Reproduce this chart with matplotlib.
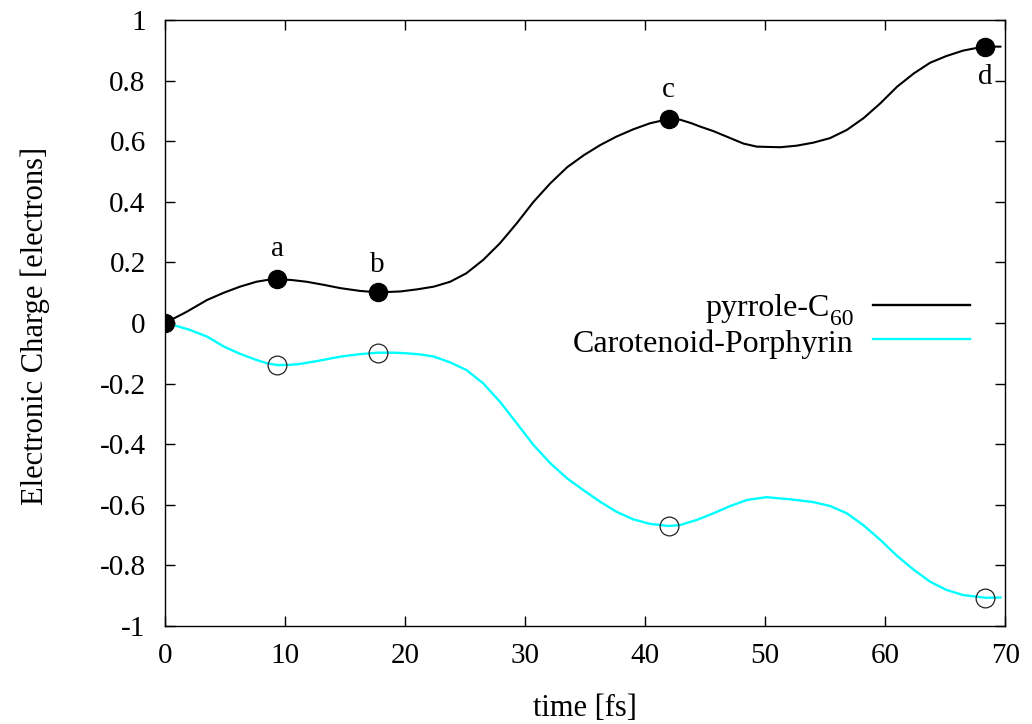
import matplotlib
matplotlib.use("Agg")
import matplotlib.pyplot as plt
from matplotlib.transforms import offset_copy

plt.rcParams['font.family'] = ['Liberation Serif', 'DejaVu Serif']

# Charge on the pyrrole-C60 fragment (electrons) vs time (fs)
t_pyr = [0, 1.8, 3.5, 4.9, 6.25, 7.6, 8.5, 9.36, 10.5, 11.8, 13.2, 14.6,
         16.2, 17.7, 19.6, 21.0, 22.4, 23.75, 25.1, 26.5, 27.9, 29.3, 30.7,
         32.1, 33.5, 34.9, 36.25, 37.6, 39.0, 40.4, 41.95, 42.9, 43.8, 44.6,
         45.7, 47.1, 48.2, 49.3, 51.25, 52.6, 54.0, 55.4, 56.8, 58.2, 59.6,
         61.0, 62.4, 63.75, 65.1, 66.5, 67.4, 68.3, 69.6]
q_pyr = [0, 0.037, 0.076, 0.1, 0.12, 0.136, 0.142, 0.144, 0.142, 0.136,
         0.126, 0.115, 0.106, 0.101, 0.104, 0.111, 0.12, 0.136, 0.164, 0.208,
         0.263, 0.329, 0.40, 0.461, 0.514, 0.554, 0.587, 0.615, 0.639, 0.659,
         0.673, 0.671, 0.66, 0.648, 0.633, 0.61, 0.592, 0.582, 0.58, 0.585,
         0.595, 0.61, 0.637, 0.676, 0.725, 0.78, 0.824, 0.859, 0.881, 0.899,
         0.906, 0.912, 0.912]

# Charge on the carotenoid-porphyrin fragment
t_car = [0, 0.7, 2.0, 3.5, 4.9, 6.25, 7.6, 8.5, 9.36, 10.5, 11.25, 12.9,
         14.6, 16.2, 17.7, 19.0, 20.1, 21.3, 22.4, 23.75, 25.1, 26.5, 27.9,
         29.3, 30.7, 32.1, 33.5, 34.9, 36.25, 37.6, 39.0, 40.4, 41.95, 42.9,
         44.3, 45.7, 47.1, 48.5, 50.1, 52.1, 54.0, 55.4, 56.8, 58.2, 59.6,
         61.0, 62.4, 63.75, 65.1, 66.5, 68.4, 69.6]
q_car = [0, -0.007, -0.022, -0.045, -0.078, -0.102, -0.122, -0.133, -0.139,
         -0.138, -0.135, -0.124, -0.111, -0.103, -0.098, -0.098, -0.1,
         -0.104, -0.111, -0.130, -0.155, -0.199, -0.26, -0.331, -0.403,
         -0.463, -0.513, -0.553, -0.59, -0.623, -0.648, -0.663, -0.67,
         -0.667, -0.65, -0.628, -0.604, -0.584, -0.575, -0.582, -0.591,
         -0.604, -0.628, -0.668, -0.716, -0.769, -0.815, -0.854, -0.881,
         -0.898, -0.907, -0.906]

assert len(t_pyr) == len(q_pyr) and len(t_car) == len(q_car)

# Snapshot instants a-d
snap_labels = ['a', 'b', 'c', 'd']
snap_t = [9.36, 17.7, 41.95, 68.3]
snap_pyr = [0.144, 0.101, 0.673, 0.912]
snap_car = [-0.139, -0.098, -0.67, -0.907]

xticks = [0, 10, 20, 30, 40, 50, 60, 70]
yticks = [-1, -0.8, -0.6, -0.4, -0.2, 0, 0.2, 0.4, 0.6, 0.8, 1]
ytick_labels = ['-1', '-0.8', '-0.6', '-0.4', '-0.2', '0', '0.2', '0.4',
                '0.6', '0.8', '1']

fig = plt.figure(figsize=(10.32, 7.24), dpi=100)
ax = fig.add_axes([0.16, 0.1354, 0.814, 0.837])

ax.plot(t_pyr, q_pyr, color='black', lw=1.5, zorder=3,
        solid_joinstyle='round')
ax.plot(t_car, q_car, color='#00ffff', lw=1.7, zorder=2,
        solid_joinstyle='round')

ax.plot([0] + snap_t, [0] + snap_pyr, ls='none', marker='o', ms=13,
        mfc='black', mec='black', zorder=5)
ax.plot(snap_t, snap_car, ls='none', marker='o', ms=13.5, mfc='none',
        mec='#222222', mew=0.9, zorder=4)

offsets = [(0, 22), (0, 20), (0, 21), (0, -22)]
for lab, x, y, (dx, dy) in zip(snap_labels, snap_t, snap_pyr, offsets):
    ax.annotate(lab, (x, y), xytext=(dx, dy), textcoords='offset points',
                ha='center', va='center', fontsize=21)

ax.set_xlim(0, 70)
ax.set_ylim(-1, 1)
ax.set_xticks(xticks)
ax.set_xticklabels([str(v) for v in xticks])
ax.set_yticks(yticks)
ax.set_yticklabels(ytick_labels)
ax.tick_params(direction='in', length=7, width=1.0, top=True, right=True,
               labelsize=21)
ax.tick_params(axis='x', pad=12)
ax.tick_params(axis='y', pad=14)
for s in ax.spines.values():
    s.set_linewidth(1.0)

ax.set_xlabel('time [fs]', fontsize=22)
ax.xaxis.set_label_coords(0.5, -0.112)
ax.set_ylabel('Electronic Charge [electrons]', fontsize=22)
ax.yaxis.set_label_coords(-0.137, 0.495)

# Legend: text right-aligned, sample line to its right
legend_x = 0.819
line_x = [0.843, 0.958]

# first entry: "pyrrole-C" followed by a lowered, smaller "60"
sub = ax.text(legend_x, 0.511, '60', transform=offset_copy(
    ax.transAxes, fig=fig, x=0, y=-9, units='dots'),
    ha='right', va='baseline', fontsize=17)
fig.canvas.draw()
sub_bb = sub.get_window_extent(renderer=fig.canvas.get_renderer())
sub_left = ax.transAxes.inverted().transform((sub_bb.x0, sub_bb.y0))[0]
ax.text(sub_left, 0.511, 'pyrrole-C', transform=ax.transAxes, ha='right',
        va='baseline', fontsize=23)
ax.plot(line_x, [0.530, 0.530], transform=ax.transAxes, color='black',
        lw=1.7)

ax.text(legend_x, 0.452, 'Carotenoid-Porphyrin', transform=ax.transAxes,
        ha='right', va='baseline', fontsize=23)
ax.plot(line_x, [0.4736, 0.4736], transform=ax.transAxes, color='#00ffff',
        lw=1.7)

fig.savefig('out.png', dpi=100)
